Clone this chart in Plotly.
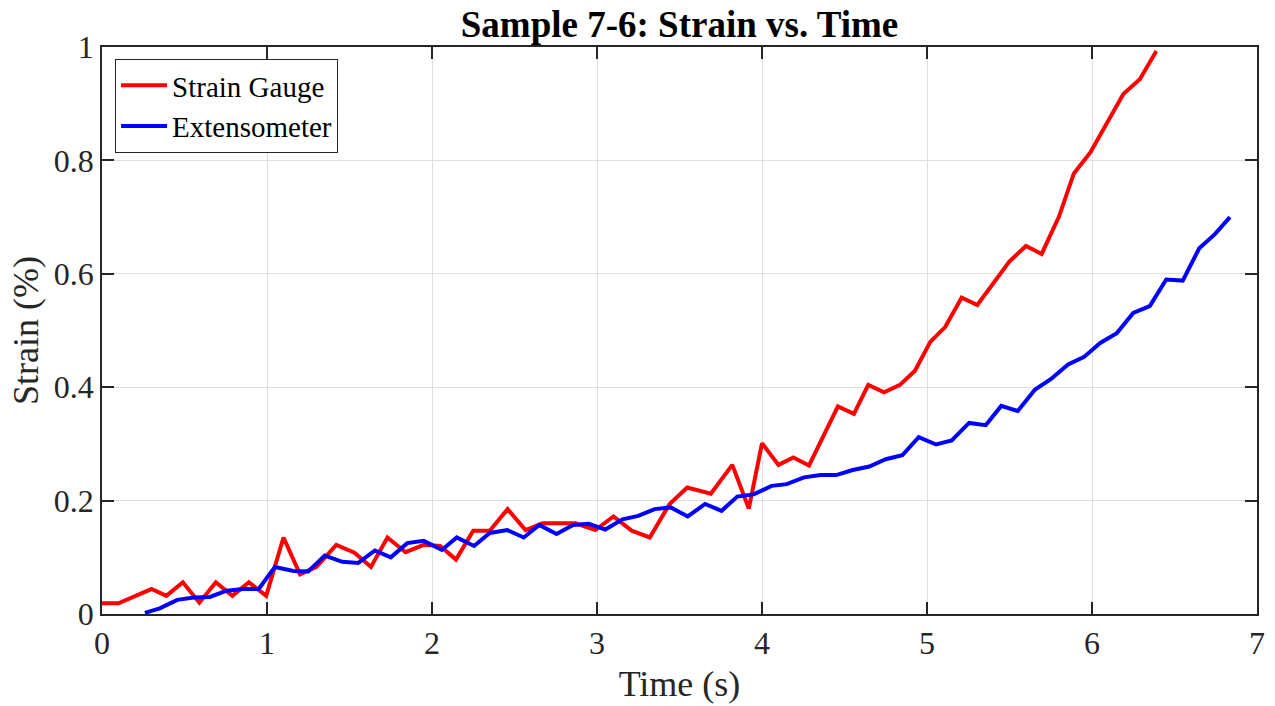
import plotly.graph_objects as go

# Strain Gauge (red)
sg_time = [0.0, 0.1, 0.3, 0.39, 0.49, 0.59, 0.69, 0.79, 0.89, 0.995, 1.10, 1.20, 1.30, 1.42, 1.53, 1.63,
           1.73, 1.84, 1.95, 2.05, 2.145, 2.25, 2.35, 2.458, 2.567, 2.67, 2.77, 2.87, 2.99, 3.10, 3.21,
           3.32, 3.44, 3.547, 3.69, 3.82, 3.92, 4.0, 4.10, 4.19, 4.285, 4.46, 4.557, 4.644, 4.74, 4.836,
           4.927, 5.02, 5.11, 5.21, 5.305, 5.40, 5.50, 5.60, 5.695, 5.80, 5.89, 5.99, 6.09, 6.19, 6.29, 6.39]
sg_strain = [0.019, 0.019, 0.044, 0.032, 0.056, 0.020, 0.056, 0.032, 0.056, 0.032, 0.135, 0.070, 0.083, 0.122,
             0.108, 0.083, 0.135, 0.109, 0.122, 0.120, 0.096, 0.147, 0.147, 0.185, 0.148, 0.160, 0.160,
             0.160, 0.148, 0.172, 0.147, 0.135, 0.194, 0.223, 0.212, 0.263, 0.186, 0.301, 0.263, 0.276,
             0.262, 0.366, 0.353, 0.404, 0.391, 0.404, 0.429, 0.480, 0.506, 0.558, 0.545, 0.583, 0.622,
             0.649, 0.635, 0.701, 0.777, 0.814, 0.865, 0.917, 0.943, 0.993]

# Extensometer (blue)
ex_time = [0.26, 0.35, 0.456, 0.557, 0.654, 0.755, 0.856, 0.95, 1.048, 1.16, 1.25, 1.35, 1.456, 1.553, 1.654,
           1.75, 1.85, 1.95, 2.06, 2.15, 2.255, 2.35, 2.456, 2.556, 2.65, 2.755, 2.855, 2.95, 3.05, 3.155,
           3.25, 3.35, 3.447, 3.55, 3.655, 3.755, 3.85, 3.95, 4.058, 4.15, 4.255, 4.355, 4.45, 4.55, 4.65,
           4.75, 4.85, 4.95, 5.055, 5.15, 5.255, 5.356, 5.45, 5.55, 5.655, 5.75, 5.855, 5.95, 6.05, 6.15,
           6.25, 6.35, 6.45, 6.55, 6.65, 6.745, 6.836]
ex_strain = [0.002, 0.010, 0.025, 0.029, 0.030, 0.041, 0.044, 0.044, 0.083, 0.076, 0.075, 0.103, 0.092, 0.090,
             0.112, 0.100, 0.125, 0.129, 0.113, 0.135, 0.120, 0.143, 0.148, 0.135, 0.157, 0.141, 0.157,
             0.159, 0.149, 0.167, 0.173, 0.185, 0.188, 0.172, 0.194, 0.182, 0.207, 0.211, 0.226, 0.229,
             0.241, 0.245, 0.245, 0.254, 0.260, 0.273, 0.280, 0.312, 0.299, 0.306, 0.337, 0.333, 0.367,
             0.358, 0.396, 0.414, 0.440, 0.453, 0.478, 0.495, 0.531, 0.543, 0.590, 0.588, 0.645, 0.670, 0.700]

x_ticks = [0, 1, 2, 3, 4, 5, 6, 7]
y_ticks = [0, 0.2, 0.4, 0.6, 0.8, 1.0]
y_tick_text = ["0", "0.2", "0.4", "0.6", "0.8", "1"]

FONT = "Liberation Serif, Times New Roman, serif"
AX = "#262626"

fig = go.Figure()
fig.add_trace(go.Scatter(x=sg_time, y=sg_strain, mode="lines", name="Strain Gauge",
                         line=dict(color="#ff0000", width=4)))
fig.add_trace(go.Scatter(x=ex_time, y=ex_strain, mode="lines", name="Extensometer",
                         line=dict(color="#0000ff", width=4)))

axis_common = dict(
    showline=True, linecolor=AX, linewidth=1.5, mirror="ticks",
    ticks="inside", ticklen=12, tickwidth=1.5, tickcolor=AX,
    showgrid=True, gridcolor="#dedede", gridwidth=1,
    zeroline=False, automargin=False,
    tickfont=dict(family=FONT, size=32, color=AX),
)

fig.update_layout(
    width=1275, height=706,
    margin=dict(l=102, r=18, t=47, b=92),
    paper_bgcolor="white", plot_bgcolor="white",
    title=dict(text="<b>Sample 7-6: Strain vs. Time</b>", x=0.5, xref="paper",
               y=1 - 24 / 706, yref="container", yanchor="middle", xanchor="center",
               font=dict(family=FONT, size=37, color="black")),
    xaxis=dict(range=[0, 7], tickvals=x_ticks, ticktext=[str(v) for v in x_ticks],
               title=dict(text="Time (s)", font=dict(family=FONT, size=36, color=AX), standoff=11),
               **axis_common),
    yaxis=dict(range=[0, 1], tickvals=y_ticks, ticktext=y_tick_text,
               title=dict(text="Strain (%)", font=dict(family=FONT, size=36, color=AX), standoff=4),
               **axis_common),
    legend=dict(x=0.0113, y=0.979, xanchor="left", yanchor="top",
                bgcolor="white", bordercolor=AX, borderwidth=1,
                font=dict(family=FONT, size=29, color="black"),
                tracegroupgap=0, itemwidth=46),
    showlegend=True,
)

fig.write_html("out.html")
